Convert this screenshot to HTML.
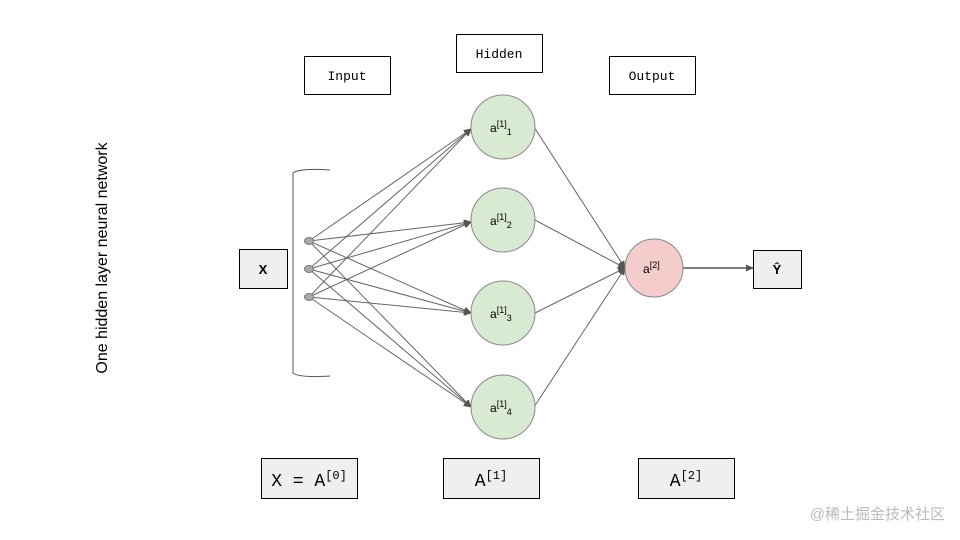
<!DOCTYPE html>
<html><head><meta charset="utf-8"><style>
body{margin:0;background:#fff;}
svg{display:block;}
.m{font-family:"Liberation Mono",monospace;}
.s{font-family:"Liberation Sans",sans-serif;}
</style></head><body>
<svg width="960" height="540" viewBox="0 0 960 540" xmlns="http://www.w3.org/2000/svg">
<defs><marker id="a" markerWidth="8" markerHeight="8" refX="7" refY="4" orient="auto" markerUnits="userSpaceOnUse"><path d="M0,0.5 L8,4 L0,7.5z" fill="#555"/></marker></defs>
<g fill="#fff" stroke="#000" stroke-width="1">
<rect x="304.5" y="56.5" width="86" height="38"/>
<rect x="456.5" y="34.5" width="86" height="38"/>
<rect x="609.5" y="56.5" width="86" height="38"/>
</g>
<g class="m" font-size="13" text-anchor="middle">
<text x="347" y="80">Input</text><text x="499" y="58">Hidden</text><text x="652" y="80">Output</text>
</g>
<path d="M330,170 Q300,168 293,173 L293,373 Q300,378 330,376" fill="none" stroke="#555"/>
<g stroke="#666" stroke-width="1" marker-end="url(#a)">
<line x1="309" y1="241" x2="471" y2="129"/><line x1="309" y1="269" x2="471" y2="129"/><line x1="309" y1="297" x2="471" y2="129"/>
<line x1="309" y1="241" x2="471" y2="222"/><line x1="309" y1="269" x2="471" y2="222"/><line x1="309" y1="297" x2="471" y2="222"/>
<line x1="309" y1="241" x2="471" y2="313"/><line x1="309" y1="269" x2="471" y2="313"/><line x1="309" y1="297" x2="471" y2="313"/>
<line x1="309" y1="241" x2="471" y2="407"/><line x1="309" y1="269" x2="471" y2="407"/><line x1="309" y1="297" x2="471" y2="407"/>
<line x1="534" y1="127" x2="625" y2="268"/><line x1="535" y1="220" x2="625" y2="268"/><line x1="535" y1="313" x2="625" y2="268"/><line x1="534" y1="407" x2="625" y2="268"/>
<line x1="683" y1="268" x2="753" y2="268" stroke="#555" stroke-width="1.5"/>
</g>
<g fill="#aaa" stroke="#777"><ellipse cx="309" cy="241" rx="4.5" ry="3.5"/><ellipse cx="309" cy="269" rx="4.5" ry="3.5"/><ellipse cx="309" cy="297" rx="4.5" ry="3.5"/></g>
<g fill="#d9ead3" stroke="#888">
<circle cx="503" cy="127" r="32"/><circle cx="503" cy="220" r="32"/><circle cx="503" cy="313" r="32"/><circle cx="503" cy="407" r="32"/>
</g>
<circle cx="654" cy="268" r="29" fill="#f4cccc" stroke="#888"/>
<g class="s" font-size="12" fill="#000">
<text x="490" y="132">a<tspan font-size="9" dy="-5">[1]</tspan><tspan font-size="9" dy="8">1</tspan></text>
<text x="490" y="225">a<tspan font-size="9" dy="-5">[1]</tspan><tspan font-size="9" dy="8">2</tspan></text>
<text x="490" y="318">a<tspan font-size="9" dy="-5">[1]</tspan><tspan font-size="9" dy="8">3</tspan></text>
<text x="490" y="412">a<tspan font-size="9" dy="-5">[1]</tspan><tspan font-size="9" dy="8">4</tspan></text>
<text x="643" y="273">a<tspan font-size="9" dy="-5">[2]</tspan></text>
</g>
<g fill="#efefef" stroke="#000">
<rect x="239.5" y="249.5" width="48" height="39"/>
<rect x="753.5" y="250.5" width="48" height="38"/>
<rect x="261.5" y="458.5" width="96" height="40"/>
<rect x="443.5" y="458.5" width="96" height="40"/>
<rect x="638.5" y="458.5" width="96" height="40"/>
</g>
<g class="s" font-size="13" font-weight="bold" text-anchor="middle">
<text x="263" y="274">X</text><text x="777" y="274">Ŷ</text>
</g>
<g class="m" font-size="18" text-anchor="middle">
<text x="309" y="486">X = A<tspan font-size="12" dy="-7">[0]</tspan></text>
<text x="491" y="486">A<tspan font-size="12" dy="-7">[1]</tspan></text>
<text x="686" y="486">A<tspan font-size="12" dy="-7">[2]</tspan></text>
</g>
<text class="s" font-size="16" transform="translate(107,258) rotate(-90)" text-anchor="middle">One hidden layer neural network</text>
<text x="945" y="519" text-anchor="end" font-size="15" fill="#bbb" font-family="'Liberation Sans','Noto Sans CJK SC',sans-serif">@稀土掘金技术社区</text>
</svg>
</body></html>
